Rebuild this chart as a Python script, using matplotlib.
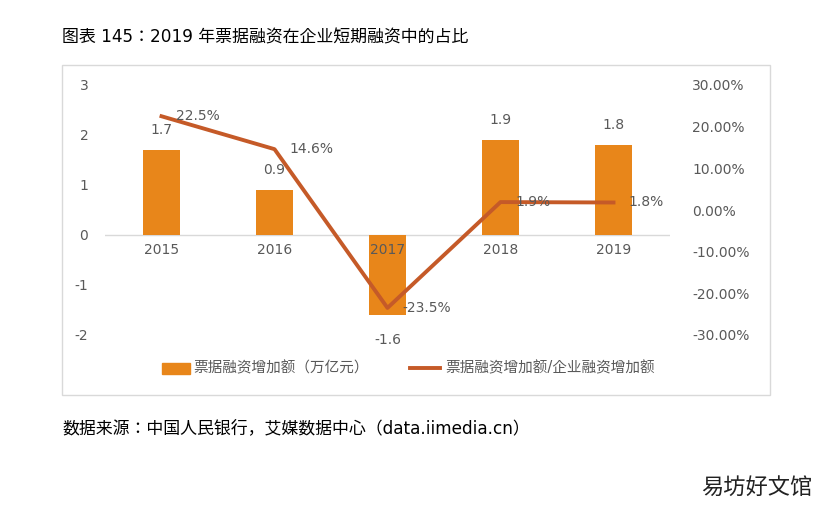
import matplotlib.pyplot as plt
from matplotlib.patches import Rectangle

plt.rcParams['font.family'] = ['DejaVu Sans', 'Noto Sans CJK SC', 'Noto Sans CJK JP']
plt.rcParams['axes.unicode_minus'] = False

years = ['2015', '2016', '2017', '2018', '2019']
bill_increase = [1.7, 0.9, -1.6, 1.9, 1.8]
share_pct = [22.5, 14.6, -23.5, 1.9, 1.8]

bar_color = '#E8861A'
line_color = '#C55A28'
txt = '#595959'

fig = plt.figure(figsize=(8.39, 5.18), dpi=100)
W, H = 839, 518

# chart frame
fig.patches.append(Rectangle((62 / W, 1 - 395 / H), 708 / W, 330 / H,
                             transform=fig.transFigure, fill=False,
                             edgecolor='#D9D9D9', linewidth=1))

ax = fig.add_axes([105 / W, 1 - 335 / H, 565 / W, 250 / H])
x = list(range(len(years)))
ax.bar(x, bill_increase, width=0.32, color=bar_color, zorder=2)
ax.set_xlim(-0.5, 4.5)
ax.set_ylim(-2, 3)
ax.set_yticks([-2, -1, 0, 1, 2, 3])
ax.tick_params(axis='y', length=0, labelsize=10, labelcolor=txt, pad=12)
ax.set_xticks([])
for s in ax.spines.values():
    s.set_visible(False)
ax.axhline(0, color='#D9D9D9', linewidth=1, zorder=1)
for i, v in enumerate(bill_increase):
    ax.text(i, 0 - 0.3, years[i], ha='center', va='center', fontsize=10, color=txt)
    off = 0.4 if v > 0 else -0.5
    ax.text(i, v + off, f'{v}', ha='center', va='center', fontsize=10, color=txt)

ax2 = ax.twinx()
ax2.plot(x, share_pct, color=line_color, linewidth=2.8, zorder=3)
ax2.set_ylim(-30, 30)
ax2.set_yticks([-30, -20, -10, 0, 10, 20, 30])
ax2.set_yticklabels([f'{t:.2f}%' for t in [-30, -20, -10, 0, 10, 20, 30]])
ax2.tick_params(axis='y', length=0, labelsize=10, labelcolor=txt, pad=16)
for s in ax2.spines.values():
    s.set_visible(False)
for i, v in enumerate(share_pct):
    ax2.text(i + 0.13, v, f'{v}%', ha='left', va='center', fontsize=10, color=txt)

# legend
fig.patches.append(Rectangle((162 / W, 1 - 374 / H), 28 / W, 11 / H,
                             transform=fig.transFigure, color=bar_color))
fig.text(193 / W, 1 - 368 / H, '票据融资增加额（万亿元）', fontsize=10.5, color=txt, va='center')
fig.lines.append(plt.Line2D([410 / W, 440 / W], [1 - 368 / H] * 2,
                            transform=fig.transFigure, color=line_color, linewidth=2.8))
fig.text(445 / W, 1 - 368 / H, '票据融资增加额/企业融资增加额', fontsize=10.5, color=txt, va='center')

fig.text(62 / W, 1 - 38 / H, '图表 145：2019 年票据融资在企业短期融资中的占比', fontsize=12.2, va='center')
fig.text(62 / W, 1 - 428 / H, '数据来源：中国人民银行，艾媒数据中心（data.iimedia.cn）', fontsize=12.2, va='center')
fig.text(812 / W, 1 - 487 / H, '易坊好文馆', fontsize=16, ha='right', va='center', color='#222222')

fig.savefig('out.png', dpi=100)
